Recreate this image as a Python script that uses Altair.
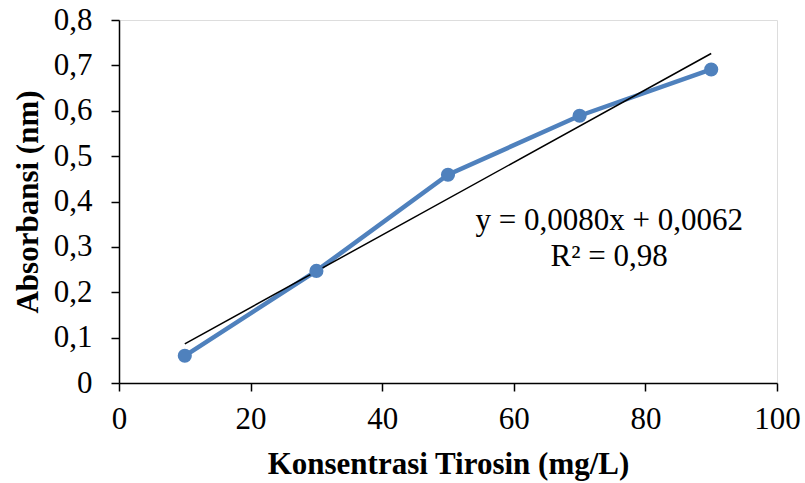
import altair as alt
import pandas as pd

konsentrasi = [10, 30, 50, 70, 90]
absorbansi = [0.06, 0.247, 0.459, 0.589, 0.691]
trend_x = [10, 90]
trend_y = [0.0862, 0.7262]
eq_lines = ["y = 0,0080x + 0,0062", "R² = 0,98"]
eq_x = [74.5, 74.5]
eq_y = [0.358, 0.278]

FONT = "Liberation Serif"
BLUE = "#4f81bd"
FS = 31

df = pd.DataFrame({"x": konsentrasi, "y": absorbansi})
tdf = pd.DataFrame({"x": trend_x, "y": trend_y})
edf = pd.DataFrame({"t": eq_lines, "x": eq_x, "y": eq_y})

xscale = alt.Scale(domain=[0, 100], nice=False, zero=False)
yscale = alt.Scale(domain=[0, 0.8], nice=False)

xaxis = alt.Axis(
    values=[0, 20, 40, 60, 80, 100], title="Konsentrasi Tirosin (mg/L)",
    grid=False, domainColor="black", domainWidth=1.5, tickColor="black",
    tickWidth=1.5, tickSize=8, labelFont=FONT, labelFontSize=FS,
    labelColor="black", labelPadding=13, labelFlush=False, labelOverlap=False,
    titleFont=FONT, titleFontSize=FS,
    titleFontWeight="bold", titleColor="black", titleX=329, titleY=81,
    titleBaseline="middle",
)
yaxis = alt.Axis(
    values=[0, 0.1, 0.2, 0.3, 0.4, 0.5, 0.6, 0.7, 0.8],
    labelExpr="replace(format(datum.value, '.1~f'), '.', ',')",
    title="Absorbansi (nm)", grid=False, domainColor="black", domainWidth=1.5,
    tickColor="black", tickWidth=1.5, tickSize=8, labelFont=FONT,
    labelFontSize=FS, labelColor="black", labelPadding=19, labelFlush=False,
    labelOverlap=False, titleFont=FONT,
    titleFontSize=FS, titleFontWeight="bold", titleColor="black",
    titleX=-91, titleY=181.5, titleAngle=-90, titleBaseline="middle",
    titleAlign="center",
)

base = alt.Chart(df)
line = base.mark_line(color=BLUE, strokeWidth=4.5).encode(
    x=alt.X("x:Q", scale=xscale, axis=xaxis),
    y=alt.Y("y:Q", scale=yscale, axis=yaxis),
)
pts = base.mark_point(filled=True, color=BLUE, size=200, opacity=1).encode(
    x=alt.X("x:Q", scale=xscale), y=alt.Y("y:Q", scale=yscale)
)
trend = alt.Chart(tdf).mark_line(color="black", strokeWidth=1.5).encode(
    x=alt.X("x:Q", scale=xscale), y=alt.Y("y:Q", scale=yscale)
)
eq = alt.Chart(edf).mark_text(font=FONT, fontSize=FS, color="black",
                              align="center", baseline="middle").encode(
    x=alt.X("x:Q", scale=xscale), y=alt.Y("y:Q", scale=yscale), text="t:N"
)

chart = alt.layer(line, trend, pts, eq).properties(
    width=658, height=363,
    padding={"left": 119, "top": 20, "right": 28, "bottom": 100},
    autosize=alt.AutoSizeParams(type="none"),
).configure_view(stroke=None).configure(background="white")

chart.save("out.html", embed_options={"renderer": "svg", "actions": False})
